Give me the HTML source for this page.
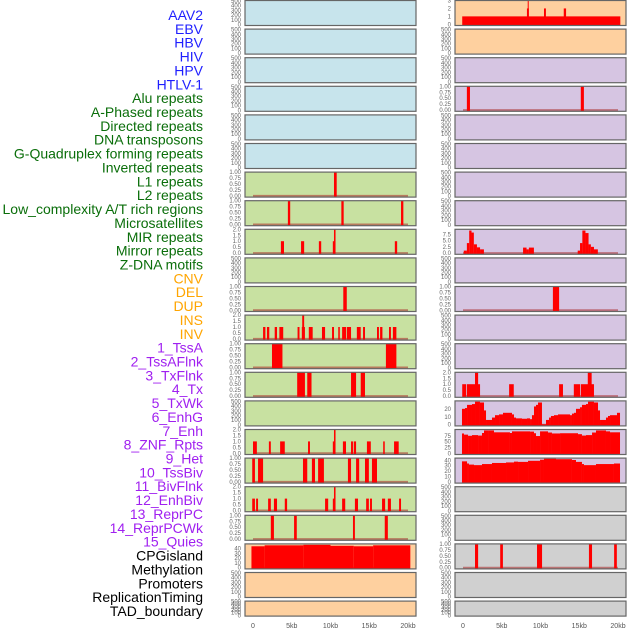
<!DOCTYPE html>
<html><head><meta charset="utf-8"><style>
html,body{margin:0;padding:0;background:#fff;width:630px;height:630px;overflow:hidden}
svg{display:block;font-family:"Liberation Sans",sans-serif}
</style></head><body>
<svg id="chart" width="630" height="630" viewBox="0 0 630 630" xmlns="http://www.w3.org/2000/svg"></svg>
<script>
// ---- track labels ----
const trackLabels = ["AAV2","EBV","HBV","HIV","HPV","HTLV-1","Alu repeats","A-Phased repeats","Directed repeats","DNA transposons","G-Quadruplex forming repeats","Inverted repeats","L1 repeats","L2 repeats","Low_complexity A/T rich regions","Microsatellites","MIR repeats","Mirror repeats","Z-DNA motifs","CNV","DEL","DUP","INS","INV","1_TssA","2_TssAFlnk","3_TxFlnk","4_Tx","5_TxWk","6_EnhG","7_Enh","8_ZNF_Rpts","9_Het","10_TssBiv","11_BivFlnk","12_EnhBiv","13_ReprPC","14_ReprPCWk","15_Quies","CPGisland","Methylation","Promoters","ReplicationTiming","TAD_boundary"];
const labelColors = ["#1f1fff","#1f1fff","#1f1fff","#1f1fff","#1f1fff","#1f1fff","#0a6e0a","#0a6e0a","#0a6e0a","#0a6e0a","#0a6e0a","#0a6e0a","#0a6e0a","#0a6e0a","#0a6e0a","#0a6e0a","#0a6e0a","#0a6e0a","#0a6e0a","#ffa500","#ffa500","#ffa500","#ffa500","#ffa500","#a020f0","#a020f0","#a020f0","#a020f0","#a020f0","#a020f0","#a020f0","#a020f0","#a020f0","#a020f0","#a020f0","#a020f0","#a020f0","#a020f0","#a020f0","#000","#000","#000","#000","#000"];
const xTickValues = [0,5,10,15,20];
const xTickLabels = ["0","5kb","10kb","15kb","20kb"];

// ---- tick sets ----
const ticksEmpty = [0,100,200,300,400,500];
const ticksOne = [0,0.25,0.5,0.75,1];
const ticksOneLabels = ["0.00","0.25","0.50","0.75","1.00"];
const ticksTwo = [0,0.5,1,1.5,2];
const ticksTwoLabels = ["0.0","0.5","1.0","1.5","2.0"];

// ---- bar data: [startKb, endKb, value] ----
const barsL1 = [[10.45,10.8,1]];
const barsL2 = [[4.5,4.8,1],[11.4,11.7,1],[19.1,19.4,1]];
const barsMIR = [[3.6,4.0,1],[6.2,6.6,1],[8.5,8.8,1],[10.3,10.55,1],[10.45,10.65,2],[18.3,18.6,1]];
const barsMicro = [[11.65,12.1,1]];
const barsRow11 = [[1.3,1.6,1],[1.8,2.1,1],[2.8,3.1,1],[3.4,3.9,1],[5.75,6.0,1],[6.3,6.7,1],[6.35,6.6,2],[7.2,7.7,1],[8.9,9.3,1],[10.2,10.45,1],[11.0,11.2,1],[11.5,12.0,1],[12.1,12.65,1],[13.4,13.9,1],[14.2,14.45,1],[16.0,16.25,1],[16.4,16.7,1],[17.55,17.8,1],[18.05,18.5,1]];
const barsRow12 = [[2.45,3.8,1],[17.15,18.5,1]];
const barsRow13 = [[5.7,6.7,1],[7.0,7.55,1],[12.65,13.3,1],[13.9,14.45,1]];
const barsRow15 = [[0,0.5,1],[2.05,2.3,1],[3.5,4.1,1],[7.1,7.35,1],[10.3,10.6,1],[10.45,10.65,2],[11.6,12.0,1],[12.65,12.9,1],[13.0,13.3,1],[14.7,15.2,1],[16.8,17.0,1],[18.2,18.8,1]];
const barsRow16 = [[-0.1,0.25,1],[0.65,1.3,1],[6.45,7.0,1],[7.6,8.0,1],[8.4,9.15,1],[12.25,12.65,1],[13.3,13.7,1],[14.45,14.95,1],[15.35,16.0,1]];
const barsRow17 = [[-0.1,0.25,1],[0.4,0.65,1],[1.95,2.3,1],[2.7,3.1,1],[4.1,4.4,1],[9.3,9.7,1],[10.3,10.6,1],[10.45,10.65,2],[11.5,11.9,1],[13.15,13.55,1],[14.6,14.95,1],[15.1,15.35,1],[16.65,17.05,1],[17.4,17.8,1],[18.85,19.1,1]];
const barsRow18 = [[2.3,2.7,1],[5.3,5.65,1],[12.9,13.15,1],[17.0,17.4,1]];
const barsCpgLeft = [[-0.2,1.5,45],[1.5,6.5,47],[6.5,10,48],[10,13,46],[13,15.5,45],[15.5,20.3,47]];
const barsR0 = [[-0.1,20.3,1],[8.25,8.5,2],[10.45,10.7,2],[13.0,13.3,2],[8.35,8.45,3]];
const barsR3 = [[0.5,0.9,1],[15.2,15.6,1]];
const barsR8 = [[0.1,0.5,1],[0.5,0.8,4],[0.8,1.1,9],[1.1,1.4,8.2],[1.4,1.8,3.5],[1.8,2.2,2.3],[2.2,2.7,1.5],[7.75,8.2,2.2],[8.2,8.5,1.5],[8.5,9.15,2.2],[14.8,15.1,1],[15.1,15.4,4],[15.4,15.8,9],[15.8,16.2,8],[16.2,16.5,3.5],[16.5,16.9,2.5],[16.9,17.4,1.5]];
const barsR10 = [[11.6,12.4,1]];
const barsR13 = [[-0.1,0.4,1],[0.5,2.2,1],[1.55,1.95,2],[5.95,6.55,1],[12.4,12.9,1],[14.3,15.1,1],[15.2,16.9,1],[16.1,16.6,2]];
const barsR19 = [[1.55,1.95,1],[4.8,5.15,1],[9.55,10.2,1],[16.25,16.65,1],[19.5,19.85,1]];

// ---- histogram profiles: breakpoints (kb) and values ----
const edgesR14 = [-0.13,0.26,0.52,1.16,1.55,2.19,2.71,2.97,3.74,4.13,4.65,5.16,6.32,6.58,6.84,7.61,8.26,8.65,8.9,9.16,9.42,9.68,10.19,10.71,11.1,11.35,11.74,12.26,13.81,14.06,14.32,14.58,15.1,15.35,15.87,16.13,16.9,17.42,17.68,18.45,18.71,18.97,19.87,20.26];
const valuesR14 = [20,21,25,26,29,28,18,6,9,12,13,15,13,9,8,7.5,8,7,12,23,25,28,0.5,6,9,11,12,13,12,14,15,20,22,25,26,29,28,18,6,9,11,12,15];
const edgesR15 = [-0.13,0.13,0.65,1.16,1.94,2.45,2.71,3.35,4.0,6.06,6.32,8.65,9.16,9.42,9.94,10.97,11.48,12.52,14.84,15.35,15.87,16.65,17.16,18.45,18.97,20.26];
const valuesR15 = [85,80,75,78,76,87,98,98,90,87,94,93,86,74,94,89,85,86,82,76,78,89,98,94,90];
const edgesR16 = [-0.13,0.52,0.77,1.42,2.45,3.74,5.55,6.58,7.1,8.39,9.94,10.45,12.0,14.06,14.58,15.35,15.61,17.16,19.48,20.26];
const valuesR16 = [38,34,32,31,33,35,36,37.5,37,39,41,43,42,40.5,37,33,31,33,34];

const BG = {blue:"#c7e4ec", green:"#c8e1a1", orange:"#fed09f", purple:"#d6c5e2", gray:"#d0d0d0"};
const COLS = [{x0:245,x1:416},{x0:455,x1:626}];
function rowTop(r){return 0.5 + r*28.6;}
function rowH(r){return r===21?15:25;}
function xScale(col,kb){return COLS[col].x0 + 8 + kb*7.75;}

const svg = document.getElementById('chart');
const NS = "http://www.w3.org/2000/svg";
function mk(tag, attrs, parent){
  const e = document.createElementNS(NS, tag);
  for (const k in attrs) e.setAttribute(k, attrs[k]);
  (parent||svg).appendChild(e);
  return e;
}

// labels
trackLabels.forEach((t,i)=>{
  const e = mk('text',{x:203,y:15+i*13.86+5,'text-anchor':'end','font-size':'14',fill:labelColors[i]});
  
  
  e.textContent = t;
});

function hist(edges, vals){ const out=[]; for(let i=0;i<vals.length;i++) out.push([edges[i],edges[i+1],vals[i]]); return out; }

const panels = [];
for (let r=0;r<22;r++){
  let bg = r<6?BG.blue:(r<19?BG.green:BG.orange);
  panels.push({col:0,row:r,bg:bg,bars:null});
}
for (let r=0;r<22;r++){
  let bg = r<2?BG.orange:(r<17?BG.purple:BG.gray);
  panels.push({col:1,row:r,bg:bg,bars:null});
}
function setP(col,row,bars,ticks,labels,max){ const p=panels[col*22+row]; p.bars=bars; p.ticks=ticks; p.labels=labels; p.max=max; }
setP(0,6,barsL1,ticksOne,ticksOneLabels,1);
setP(0,7,barsL2,ticksOne,ticksOneLabels,1);
setP(0,8,barsMIR,ticksTwo,ticksTwoLabels,2);
setP(0,10,barsMicro,ticksOne,ticksOneLabels,1);
setP(0,11,barsRow11,ticksTwo,ticksTwoLabels,2);
setP(0,12,barsRow12,ticksOne,ticksOneLabels,1);
setP(0,13,barsRow13,ticksOne,ticksOneLabels,1);
setP(0,15,barsRow15,ticksTwo,ticksTwoLabels,2);
setP(0,16,barsRow16,ticksOne,ticksOneLabels,1);
setP(0,17,barsRow17,ticksTwo,ticksTwoLabels,2);
setP(0,18,barsRow18,ticksOne,ticksOneLabels,1);
setP(0,19,barsCpgLeft,[0,10,20,30,40],["0","10","20","30","40"],50);
setP(1,0,barsR0,[0,1,2,3],["0","1","2","3"],3);
setP(1,3,barsR3,ticksOne,ticksOneLabels,1);
setP(1,8,barsR8,[0,2.5,5,7.5],["0.0","2.5","5.0","7.5"],9.5);
setP(1,10,barsR10,ticksOne,ticksOneLabels,1);
setP(1,13,barsR13,ticksTwo,ticksTwoLabels,2);
setP(1,14,hist(edgesR14,valuesR14),[0,10,20],["0","10","20"],30);
setP(1,15,hist(edgesR15,valuesR15),[0,25,50,75],["0","25","50","75"],102);
setP(1,16,hist(edgesR16,valuesR16),[0,10,20,30,40],["0","10","20","30","40"],44);
setP(1,19,barsR19,ticksOne,ticksOneLabels,1);

panels.forEach(p=>{
  const c = COLS[p.col], top=rowTop(p.row), h=rowH(p.row);
  const g = mk('g',{});
  
  
  const bgr = mk('rect',{x:c.x0,y:top,width:c.x1-c.x0,height:h,fill:p.bg},g);
  
  
  let ticks, labels, lo, hi;
  if (p.bars){ ticks=p.ticks; labels=p.labels; hi=p.max; lo=-0.05*p.max; }
  else { ticks=ticksEmpty; labels=ticksEmpty.map(String); hi=510; lo=-20; }
  const yS = v => top + h - (v-lo)/(hi-lo)*h;
  if (p.bars){
    const base = mk('line',{x1:xScale(p.col,0),x2:xScale(p.col,20),y1:yS(0),y2:yS(0),stroke:'rgba(170,40,40,0.55)','stroke-width':2},g);
    
    
    p.bars.forEach(b=>{
      const x1=xScale(p.col,b[0]), x2=xScale(p.col,b[1]);
      const y1=Math.max(top,yS(b[2]));
      const rc = mk('rect',{x:x1,y:y1,width:Math.max(1,x2-x1),height:yS(0)-y1+1,fill:'#ff0000'},g);
      
      
    });
  }
  mk('rect',{x:c.x0,y:top,width:c.x1-c.x0,height:h,fill:'none',stroke:'#666','stroke-width':1.2},g);
  ticks.forEach((v,i)=>{
    const t = mk('text',{x:c.x0-4,y:yS(v)+2,'text-anchor':'end','font-size':'6',fill:'#666'},g);
    
    
    t.textContent = labels[i];
  });
});

[0,1].forEach(col=>{
  xTickValues.forEach((v,i)=>{
    const t = mk('text',{x:xScale(col,v),y:628,'text-anchor':'middle','font-size':'7',fill:'#555'});
    
    
    t.textContent = xTickLabels[i];
  });
});
</script>
</body></html>
